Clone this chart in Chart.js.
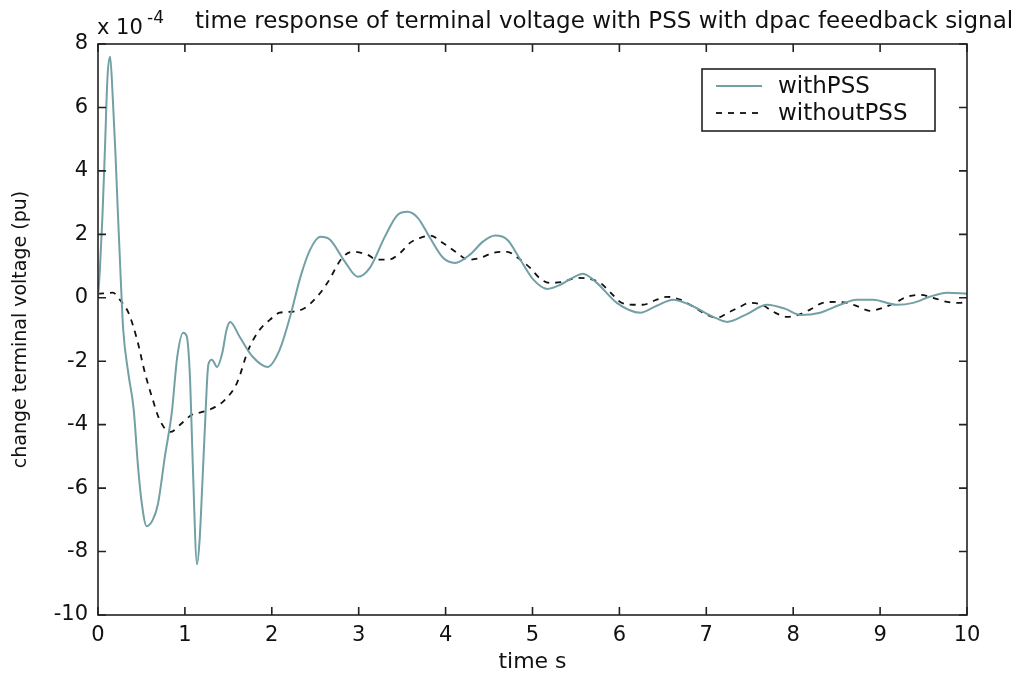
<!DOCTYPE html>
<html>
<head>
<meta charset="utf-8">
<title>terminal voltage response</title>
<script src="https://cdn.jsdelivr.net/npm/chart.js@4.4.1/dist/chart.umd.min.js"></script>
<style>
  html, body { margin: 0; padding: 0; background: #fff; }
</style>
</head>
<body>
<canvas id="voltageChart" width="1016" height="675"></canvas>
<script>
// values are in units of 1e-4 pu (axis shows "x 10^-4")
const timeWithPSS = [0, 0.02, 0.05, 0.08, 0.11, 0.14, 0.17, 0.20, 0.23, 0.26, 0.29, 0.35, 0.41, 0.46, 0.50, 0.56, 0.63, 0.69, 0.77, 0.85,
    0.91, 0.98, 1.02, 1.06, 1.09, 1.14, 1.17, 1.20, 1.23, 1.27, 1.31, 1.37, 1.43, 1.48, 1.52, 1.63, 1.78, 1.95, 2.09, 2.21,
    2.33, 2.44, 2.56, 2.67, 2.84, 2.99, 3.13, 3.30, 3.45, 3.56, 3.68, 3.82, 3.97, 4.11, 4.28, 4.43, 4.57, 4.71, 4.86, 5.01,
    5.17, 5.32, 5.46, 5.58, 5.74, 5.97, 6.24, 6.43, 6.62, 6.81, 7.08, 7.24, 7.45, 7.70, 7.91, 8.08, 8.31, 8.54, 8.73, 8.92,
    9.19, 9.38, 9.57, 9.77, 10];
const voltageWithPSS = [0, 0.8, 2.5, 4.7, 7.0, 7.6, 6.3, 4.6, 2.6, 0.7, -1.0, -2.4, -3.5, -5.3, -6.4, -7.2, -7.0, -6.5, -5.0, -3.6,
    -1.9, -1.1, -1.2, -2.6, -5.2, -8.4, -7.6, -5.9, -4.1, -2.1, -1.95, -2.18, -1.74, -1.0, -0.76, -1.23, -1.86, -2.18, -1.64, -0.6,
    0.66, 1.51, 1.92, 1.83, 1.14, 0.66, 0.95, 1.92, 2.62, 2.71, 2.52, 1.89, 1.26, 1.1, 1.36, 1.77, 1.96, 1.83, 1.2, 0.57,
    0.28, 0.41, 0.63, 0.76, 0.47, -0.16, -0.47, -0.25, -0.06, -0.22, -0.6, -0.76, -0.54, -0.22, -0.35, -0.54, -0.47, -0.22, -0.06, -0.06,
    -0.22, -0.16, 0.03, 0.16, 0.13];

const timeWithoutPSS = [0, 0.17, 0.25, 0.35, 0.45, 0.54, 0.62, 0.71, 0.83, 0.97, 1.08, 1.20, 1.35, 1.46, 1.60, 1.73, 1.86, 1.98, 2.09, 2.23,
    2.38, 2.52, 2.64, 2.81, 2.93, 3.10, 3.21, 3.34, 3.48, 3.59, 3.71, 3.82, 3.97, 4.13, 4.26, 4.40, 4.55, 4.71, 4.83, 4.97,
    5.09, 5.20, 5.35, 5.51, 5.64, 5.78, 5.89, 6.01, 6.16, 6.27, 6.43, 6.55, 6.70, 6.85, 7.01, 7.12, 7.25, 7.39, 7.50, 7.64,
    7.77, 7.93, 8.06, 8.19, 8.34, 8.50, 8.62, 8.75, 8.88, 9.03, 9.17, 9.31, 9.46, 9.61, 9.77, 9.92, 10];
const voltageWithoutPSS = [0.12, 0.16, -0.06, -0.47, -1.32, -2.37, -3.12, -3.85, -4.23, -3.94, -3.69, -3.6, -3.44, -3.22, -2.68, -1.64, -1.01, -0.69, -0.47, -0.44,
    -0.32, 0.03, 0.47, 1.26, 1.45, 1.36, 1.2, 1.2, 1.42, 1.73, 1.89, 1.96, 1.73, 1.42, 1.2, 1.26, 1.42, 1.45, 1.26, 0.95,
    0.6, 0.47, 0.5, 0.63, 0.6, 0.47, 0.19, -0.13, -0.22, -0.22, -0.06, 0.03, -0.06, -0.28, -0.54, -0.63, -0.47, -0.28, -0.16, -0.22,
    -0.44, -0.6, -0.54, -0.38, -0.16, -0.13, -0.16, -0.28, -0.41, -0.32, -0.16, 0.03, 0.09, 0, -0.13, -0.16, -0.13];

const xTicks = [0, 1, 2, 3, 4, 5, 6, 7, 8, 9, 10];
const yTicks = [-10, -8, -6, -4, -2, 0, 2, 4, 6, 8];

const seriesNames = ['withPSS', 'withoutPSS'];
const chartTitle = 'time response of terminal voltage with PSS with dpac feeedback signal';
const xTitle = 'time s';
const yTitle = 'change terminal voltage (pu)';

const FONT = '"DejaVu Sans", sans-serif';
const TEAL = '#72a0a4';

function toPoints(xs, ys) {
    return xs.map(function(x, i) { return { x: x, y: ys[i] }; });
}

// box round the axes, ticks pointing inwards, title, exponent and legend
const matlabLook = {
    id: 'matlabLook',
    afterDraw: function(chart) {
        const ctx = chart.ctx;
        const area = chart.chartArea;
        const xs = chart.scales.x;
        const ys = chart.scales.y;
        const tick = 8;

        ctx.save();
        ctx.strokeStyle = '#222';
        ctx.lineWidth = 1.6;
        ctx.setLineDash([]);
        ctx.strokeRect(area.left, area.top, area.right - area.left, area.bottom - area.top);

        ctx.beginPath();
        xTicks.forEach(function(v) {
            const px = xs.getPixelForValue(v);
            ctx.moveTo(px, area.bottom); ctx.lineTo(px, area.bottom - tick);
            ctx.moveTo(px, area.top); ctx.lineTo(px, area.top + tick);
        });
        yTicks.forEach(function(v) {
            const py = ys.getPixelForValue(v);
            ctx.moveTo(area.left, py); ctx.lineTo(area.left + tick, py);
            ctx.moveTo(area.right, py); ctx.lineTo(area.right - tick, py);
        });
        ctx.stroke();

        ctx.fillStyle = '#111';
        ctx.textBaseline = 'alphabetic';
        ctx.textAlign = 'left';
        ctx.font = '23px ' + FONT;
        ctx.fillText(chartTitle, 195, 28);

        // x 10^-4
        ctx.font = '21px ' + FONT;
        ctx.fillText('x 10', 97, 34);
        ctx.font = '17px ' + FONT;
        ctx.fillText('-4', 147, 23);

        // legend
        const lx = 702, ly = 69, lw = 233, lh = 62;
        ctx.fillStyle = '#fff';
        ctx.fillRect(lx, ly, lw, lh);
        ctx.strokeStyle = '#222';
        ctx.lineWidth = 1.6;
        ctx.strokeRect(lx, ly, lw, lh);
        chart.data.datasets.forEach(function(ds, i) {
            const yy = ly + 17 + i * 27;
            ctx.strokeStyle = ds.borderColor;
            ctx.lineWidth = ds.borderWidth;
            ctx.setLineDash(ds.borderDash || []);
            ctx.beginPath();
            ctx.moveTo(lx + 14, yy);
            ctx.lineTo(lx + 60, yy);
            ctx.stroke();
            ctx.setLineDash([]);
            ctx.fillStyle = '#111';
            ctx.font = '23px ' + FONT;
            ctx.textBaseline = 'middle';
            ctx.fillText(ds.label, lx + 76, yy + 1);
        });
        ctx.restore();
    }
};

const ctx = document.getElementById('voltageChart').getContext('2d');
const voltageChart = new Chart(ctx, {
    type: 'line',
    data: {
        datasets: [{
            label: seriesNames[0],
            data: toPoints(timeWithPSS, voltageWithPSS),
            borderColor: TEAL,
            borderWidth: 2,
            pointRadius: 0,
            fill: false,
            cubicInterpolationMode: 'monotone'
        }, {
            label: seriesNames[1],
            data: toPoints(timeWithoutPSS, voltageWithoutPSS),
            borderColor: '#111',
            borderWidth: 1.8,
            borderDash: [6, 6],
            pointRadius: 0,
            fill: false,
            cubicInterpolationMode: 'monotone'
        }]
    },
    options: {
        responsive: false,
        animation: false,
        layout: {
            padding: { top: 44, right: 49, left: 0, bottom: 0 }
        },
        scales: {
            x: {
                type: 'linear',
                min: 0,
                max: 10,
                afterBuildTicks: function(scale) {
                    scale.ticks = xTicks.map(function(v) { return { value: v }; });
                },
                afterFit: function(scale) { scale.height = 60; },
                grid: { display: false, drawTicks: false },
                border: { display: false },
                ticks: {
                    color: '#111',
                    padding: 8,
                    maxRotation: 0,
                    font: { family: FONT, size: 21 }
                },
                title: {
                    display: true,
                    text: xTitle,
                    color: '#111',
                    padding: { top: 0, bottom: 0 },
                    font: { family: FONT, size: 22 }
                }
            },
            y: {
                type: 'linear',
                min: -10,
                max: 8,
                afterBuildTicks: function(scale) {
                    scale.ticks = yTicks.map(function(v) { return { value: v }; });
                },
                afterFit: function(scale) { scale.width = 98; },
                grid: { display: false, drawTicks: false },
                border: { display: false },
                ticks: {
                    color: '#111',
                    padding: 10,
                    font: { family: FONT, size: 21 }
                },
                title: {
                    display: true,
                    text: yTitle,
                    color: '#111',
                    padding: { top: 10, bottom: 0 },
                    font: { family: FONT, size: 19 }
                }
            }
        },
        plugins: {
            legend: { display: false },
            tooltip: { enabled: false }
        }
    },
    plugins: [matlabLook]
});
</script>
</body>
</html>
